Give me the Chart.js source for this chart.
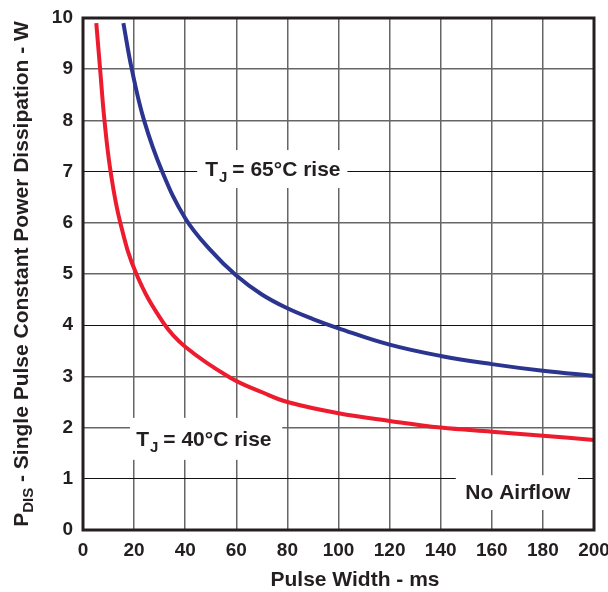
<!DOCTYPE html>
<html>
<head>
<meta charset="utf-8">
<script src="https://cdn.jsdelivr.net/npm/chart.js@4"></script>
<style>
  html, body { margin: 0; padding: 0; background: #fff; }
  #wrap { width: 608px; height: 592px; }
</style>
</head>
<body>
<div id="wrap"><canvas id="pdisChart" width="608" height="592"></canvas></div>
<script>
// pulse width (ms) vs power (W)
const rise40X = [5.2, 6.7, 8.4, 10.8, 14.6, 20.9, 31.4, 40, 57.5, 70.6, 80, 100, 120, 140, 160, 180, 200];
const rise40Y = [9.9, 9.0, 8.0, 7.0, 6.0, 5.0, 4.05, 3.58, 2.98, 2.68, 2.5, 2.28, 2.13, 2.0, 1.92, 1.84, 1.76];
const rise65X = [15.8, 19.1, 23.9, 31, 40, 50, 60, 70, 80, 90, 100, 120, 140, 160, 180, 200];
const rise65Y = [9.9, 9.0, 8.0, 7.0, 6.09, 5.46, 4.97, 4.6, 4.33, 4.12, 3.94, 3.62, 3.40, 3.24, 3.11, 3.01];
const xTicks = [0, 20, 40, 60, 80, 100, 120, 140, 160, 180, 200];
const yTicks = [0, 1, 2, 3, 4, 5, 6, 7, 8, 9, 10];

const FONT = "'Liberation Sans', Arial, sans-serif";
const INK = "#231f20";

function toPoints(xs, ys) {
  return xs.map((x, i) => ({ x: x, y: ys[i] }));
}

// white boxed labels sitting over the grid
const labelPlugin = {
  id: "labels",
  beforeDatasetsDraw(chart) {
    const { ctx, scales } = chart;
    const x = scales.x, y = scales.y;
    const boxes = [
      { x0: 44.7, x1: 103.5, y0: 7.42, y1: 6.68 },
      { x0: 18.4, x1: 78, y0: 2.19, y1: 1.37 },
      { x0: 145.9, x1: 193.7, y0: 1.07, y1: 0.39 },
    ];
    ctx.save();
    ctx.fillStyle = "#fff";
    boxes.forEach((b) => {
      const px0 = x.getPixelForValue(b.x0), px1 = x.getPixelForValue(b.x1);
      const py0 = y.getPixelForValue(b.y0), py1 = y.getPixelForValue(b.y1);
      ctx.fillRect(px0, py0, px1 - px0, py1 - py0);
    });
    ctx.restore();
  },
  afterDatasetsDraw(chart) {
    const { ctx, scales } = chart;
    const x = scales.x, y = scales.y;
    ctx.save();
    ctx.fillStyle = INK;
    ctx.textBaseline = "middle";
    drawTJ(ctx, "65°C rise", x.getPixelForValue(47.8), y.getPixelForValue(7.03));
    drawTJ(ctx, "40°C rise", x.getPixelForValue(20.8), y.getPixelForValue(1.76));
    ctx.font = "bold 21px " + FONT;
    ctx.textAlign = "center";
    ctx.fillText("No Airflow", x.getPixelForValue(170.2), y.getPixelForValue(0.72));
    ctx.restore();
  },
};

function drawTJ(ctx, rest, px, py) {
  ctx.textAlign = "left";
  ctx.font = "bold 21px " + FONT;
  ctx.fillText("T", px, py);
  let w = ctx.measureText("T").width;
  ctx.font = "bold 15px " + FONT;
  ctx.fillText("J", px + w + 1, py + 8);
  w += ctx.measureText("J").width + 6;
  ctx.font = "bold 21px " + FONT;
  ctx.fillText("= " + rest, px + w, py);
}

// axis titles and frame
const axisPlugin = {
  id: "axisTitles",
  afterDraw(chart) {
    const { ctx, chartArea } = chart;
    ctx.save();
    ctx.fillStyle = INK;
    ctx.textBaseline = "middle";

    ctx.font = "bold 21px " + FONT;
    ctx.textAlign = "center";
    ctx.fillText("Pulse Width - ms", 355, 580);

    ctx.translate(22, 274);
    ctx.rotate(-Math.PI / 2);
    const main = "P";
    const sub = "DIS";
    const tail = " - Single Pulse Constant Power Dissipation - W";
    ctx.font = "bold 21px " + FONT;
    const wP = ctx.measureText(main).width;
    const wT = ctx.measureText(tail).width;
    ctx.font = "bold 15px " + FONT;
    const wS = ctx.measureText(sub).width;
    const sx = -(wP + wS + wT) / 2;
    ctx.textAlign = "left";
    ctx.font = "bold 21px " + FONT;
    ctx.fillText(main, sx, 0);
    ctx.font = "bold 15px " + FONT;
    ctx.fillText(sub, sx + wP, 7);
    ctx.font = "bold 21px " + FONT;
    ctx.fillText(tail, sx + wP + wS, 0);
    ctx.restore();

    ctx.save();
    ctx.strokeStyle = INK;
    ctx.lineWidth = 3;
    ctx.strokeRect(chartArea.left, chartArea.top, chartArea.right - chartArea.left, chartArea.bottom - chartArea.top);
    ctx.restore();
  },
};

document.addEventListener("DOMContentLoaded", function () {
  const ctx = document.getElementById("pdisChart");

  new Chart(ctx, {
    type: "line",
    data: {
      datasets: [
        {
          label: "TJ = 65°C rise",
          data: toPoints(rise65X, rise65Y),
          borderColor: "#2b3590",
          borderWidth: 4,
          pointRadius: 0,
          tension: 0.4,
        },
        {
          label: "TJ = 40°C rise",
          data: toPoints(rise40X, rise40Y),
          borderColor: "#ec1c2e",
          borderWidth: 4,
          pointRadius: 0,
          tension: 0.4,
        },
      ],
    },
    options: {
      responsive: false,
      animation: false,
      layout: { padding: { top: 18, right: 14, left: 0, bottom: 0 } },
      plugins: {
        legend: { display: false },
        tooltip: { enabled: false },
      },
      scales: {
        x: {
          type: "linear",
          min: 0,
          max: 200,
          afterFit: (s) => { s.height = 62; s.paddingLeft = 0; s.paddingRight = 0; },
          afterBuildTicks: (s) => { s.ticks = xTicks.map((v) => ({ value: v })); },
          grid: { color: "#666", lineWidth: 1.5, drawTicks: false },
          border: { display: false },
          ticks: {
            padding: 9,
            color: INK,
            font: { family: FONT, size: 19, weight: "bold" },
            maxRotation: 0,
          },
        },
        y: {
          type: "linear",
          min: 0,
          max: 10,
          afterFit: (s) => { s.width = 83; s.paddingTop = 0; s.paddingBottom = 0; },
          afterBuildTicks: (s) => { s.ticks = yTicks.map((v) => ({ value: v })); },
          grid: {
            color: (c) => ([1, 4, 7].includes(c.tick && c.tick.value) ? "#111" : "#666"),
            lineWidth: (c) => ([1, 4, 7].includes(c.tick && c.tick.value) ? 1 : 1.5),
            drawTicks: false,
          },
          border: { display: false },
          ticks: {
            padding: 10,
            color: INK,
            font: { family: FONT, size: 19, weight: "bold" },
          },
        },
      },
    },
    plugins: [labelPlugin, axisPlugin],
  });
});
</script>
</body>
</html>
